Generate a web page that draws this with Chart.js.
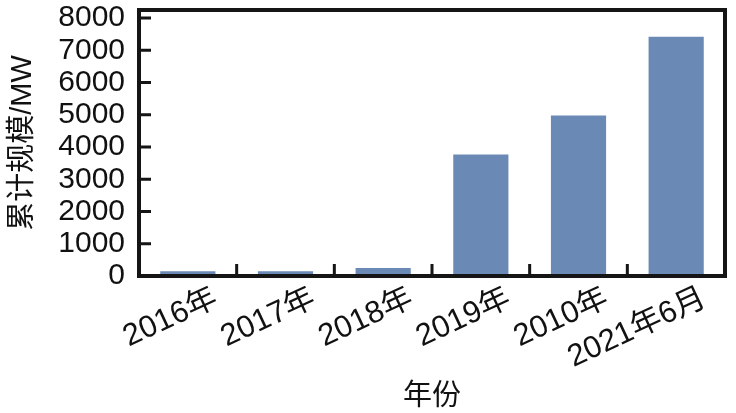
<!DOCTYPE html>
<html>
<head>
<meta charset="utf-8">
<script src="https://cdn.jsdelivr.net/npm/chart.js@4/dist/chart.umd.min.js"></script>
<style>
  html, body { margin: 0; padding: 0; background: #fff; }
  #wrap { width: 736px; height: 413px; }
</style>
</head>
<body>
<div id="wrap"><canvas id="chart"></canvas></div>
<script>
// data
const years = ["2016年", "2017年", "2018年", "2019年", "2010年", "2021年6月"];
const capacity = [150, 150, 250, 3770, 4980, 7420];
const yTicks = [0, 1000, 2000, 3000, 4000, 5000, 6000, 7000, 8000];

const latin = "'Liberation Sans', Arial, 'Noto Sans CJK SC', sans-serif";

// box round the plot, with short ticks pointing inwards
const frameTicks = {
  id: "frameTicks",
  afterDatasetsDraw(chart) {
    const ctx = chart.ctx;
    const a = chart.chartArea;
    const x = chart.scales.x;
    const y = chart.scales.y;
    ctx.save();
    ctx.strokeStyle = "#151515";
    ctx.lineWidth = 4;
    ctx.strokeRect(a.left, a.top, a.right - a.left, a.bottom - a.top);
    ctx.lineWidth = 3;
    ctx.beginPath();
    for (const v of yTicks) {
      const py = y.getPixelForValue(v);
      ctx.moveTo(a.left, py);
      ctx.lineTo(a.left + 12, py);
    }
    for (let i = 0; i < years.length - 1; i++) {
      const px = (x.getPixelForValue(i) + x.getPixelForValue(i + 1)) / 2;
      ctx.moveTo(px, a.bottom);
      ctx.lineTo(px, a.bottom - 12);
    }
    ctx.stroke();
    ctx.restore();
  }
};

new Chart("chart", {
  type: "bar",
  data: {
    labels: years,
    datasets: [{
      data: capacity,
      backgroundColor: "#6a8ab5",
      borderWidth: 0,
      barPercentage: 0.565,
      categoryPercentage: 1
    }]
  },
  options: {
    responsive: true,
    maintainAspectRatio: false,
    animation: false,
    layout: { padding: { top: 10, right: 11, left: 0, bottom: 0 } },
    plugins: {
      legend: { display: false },
      tooltip: { enabled: false }
    },
    scales: {
      x: {
        grid: { display: false, drawTicks: false },
        border: { display: false },
        afterFit(scale) {
          scale.height = 137;
          scale.paddingLeft = 0;
          scale.paddingRight = 0;
        },
        ticks: {
          color: "#111",
          font: { family: latin, size: 31 },
          minRotation: 25,
          maxRotation: 25,
          autoSkip: false,
          labelOffset: 28,
          padding: 4
        },
        title: {
          display: true,
          text: "年份",
          color: "#111",
          font: { family: "'Noto Sans CJK SC', sans-serif", size: 29 },
          padding: { top: 0, bottom: 2 }
        }
      },
      y: {
        min: 0,
        max: 8250,
        grid: { display: false, drawTicks: false },
        border: { display: false },
        afterFit(scale) {
          scale.width = 139;
          scale.paddingTop = 0;
          scale.paddingBottom = 0;
        },
        afterBuildTicks(scale) { scale.ticks = yTicks.map(v => ({ value: v })); },
        ticks: {
          color: "#111",
          font: { family: latin, size: 30 },
          autoSkip: false,
          padding: 14,
          callback: v => String(v)
        },
        title: {
          display: true,
          text: "累计规模/MW",
          color: "#111",
          font: { family: latin, size: 29 },
          padding: { top: 6, bottom: 0 }
        }
      }
    }
  },
  plugins: [frameTicks]
});
</script>
</body>
</html>
